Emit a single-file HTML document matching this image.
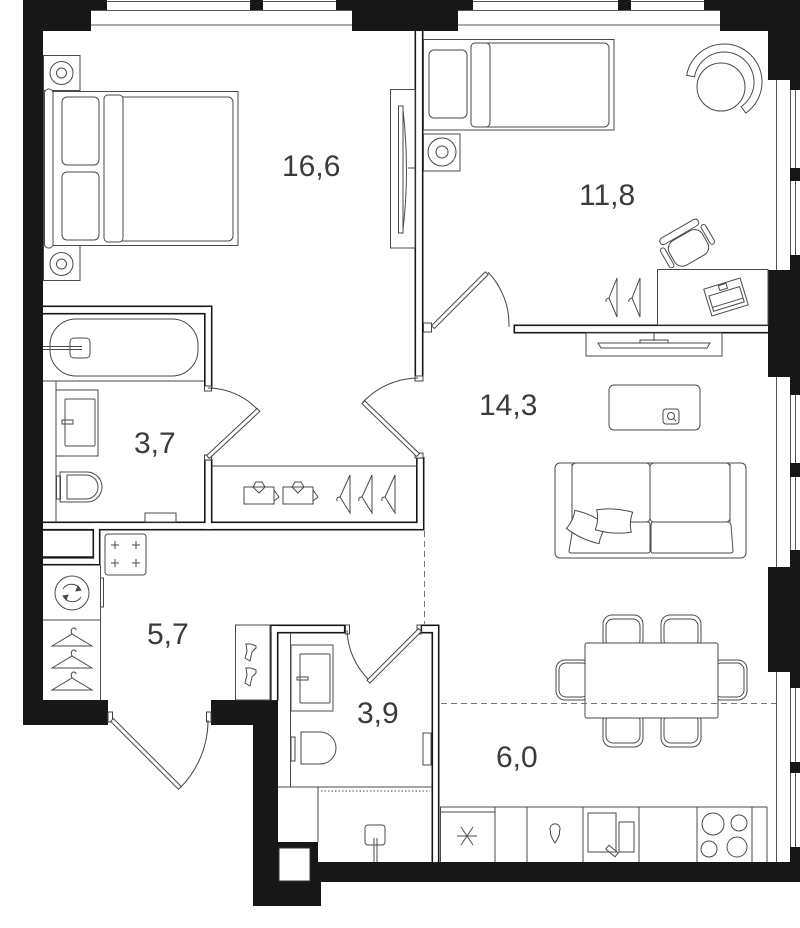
<!DOCTYPE html>
<html><head><meta charset="utf-8">
<style>
html,body{margin:0;padding:0;background:#fff}
svg{display:block}
text{font-family:"Liberation Sans",sans-serif;font-size:30px;fill:#3b3b3b}
</style></head>
<body>
<svg width="800" height="928" viewBox="0 0 800 928" xmlns="http://www.w3.org/2000/svg">
<rect width="800" height="928" fill="#fff"/>

<!-- windows top -->
<g stroke="#555" stroke-width="1" fill="none">
  <line x1="91" y1="10.5" x2="352" y2="10.5"/>
  <line x1="91" y1="25" x2="352" y2="25"/>
  <line x1="107" y1="1.5" x2="336" y2="1.5"/>
  <line x1="458" y1="10.5" x2="720" y2="10.5"/>
  <line x1="458" y1="25" x2="720" y2="25"/>
  <line x1="473" y1="1.5" x2="704" y2="1.5"/>
  <!-- right windows -->
  <line x1="776.5" y1="80" x2="776.5" y2="270"/>
  <line x1="776.5" y1="377" x2="776.5" y2="567"/>
  <line x1="776.5" y1="672" x2="776.5" y2="862"/>
  <line x1="790.5" y1="80" x2="790.5" y2="270"/>
  <line x1="795.5" y1="80" x2="795.5" y2="270"/>
  <line x1="790.5" y1="377" x2="790.5" y2="567"/>
  <line x1="795.5" y1="377" x2="795.5" y2="567"/>
  <line x1="790.5" y1="672" x2="790.5" y2="862"/>
  <line x1="795.5" y1="672" x2="795.5" y2="862"/>
</g>

<!-- exterior walls -->
<g fill="#171717">
  <polygon points="23,0 107,0 107,10 91,10 91,31 43,31 43,700 108,700 108,725 23,725"/>
  <rect x="250" y="0" width="13" height="10"/>
  <polygon points="336,0 473,0 473,10 458,10 458,31 352,31 352,10 336,10"/>
  <rect x="618" y="0" width="13" height="10"/>
  <polygon points="704,0 800,0 800,90 790,90 790,80 768,80 768,31 720,31 720,10 704,10"/>
  <rect x="790" y="168" width="10" height="13"/>
  <rect x="790" y="255" width="10" height="15"/>
  <rect x="768" y="270" width="32" height="107"/>
  <rect x="790" y="377" width="10" height="18"/>
  <rect x="790" y="463" width="10" height="14"/>
  <rect x="790" y="550" width="10" height="17"/>
  <rect x="768" y="567" width="32" height="105"/>
  <rect x="790" y="672" width="10" height="16"/>
  <rect x="790" y="762" width="10" height="11"/>
  <rect x="790" y="847" width="10" height="15"/>
  <polygon points="211,700 278,700 278,842 318,842 318,862 800,862 800,882 321,882 321,906 253,906 253,725 211,725"/>
</g>
<rect x="279" y="848" width="31" height="33" fill="#fff" stroke="#333" stroke-width="1"/>

<!-- thin partitions: black outer -->
<g fill="#171717">
  <rect x="414.5" y="31" width="9" height="348"/>
  <rect x="204" y="305.5" width="8.5" height="83"/>
  <rect x="43" y="305.5" width="169.5" height="9"/>
  <rect x="204" y="459" width="8.5" height="71"/>
  <rect x="416" y="457" width="8.5" height="73"/>
  <rect x="43" y="521.5" width="381.5" height="9"/>
  <rect x="92.5" y="521.5" width="8" height="44"/>
  <rect x="43" y="557" width="57.5" height="8.5"/>
  <rect x="513.5" y="324.5" width="254.5" height="9"/>
  <rect x="270" y="624.5" width="75.5" height="9"/>
  <rect x="270" y="624.5" width="8.5" height="76"/>
  <rect x="420.5" y="624.5" width="19" height="9"/>
  <rect x="431.5" y="624.5" width="8" height="238"/>
</g>
<g fill="#fff">
  <rect x="416.1" y="31" width="5.8" height="346.4"/>
  <rect x="205.6" y="307.1" width="5.3" height="79.3"/>
  <rect x="43" y="307.1" width="167.9" height="5.8"/>
  <rect x="205.6" y="460.6" width="5.3" height="68.3"/>
  <rect x="417.6" y="458.6" width="5.3" height="70.3"/>
  <rect x="43" y="523.1" width="379.9" height="5.8"/>
  <rect x="94.1" y="523.1" width="4.8" height="40.8"/>
  <rect x="43" y="558.6" width="55.9" height="5.3"/>
  <rect x="515.1" y="326.1" width="252.9" height="5.8"/>
  <rect x="271.6" y="626.1" width="72.3" height="5.8"/>
  <rect x="271.6" y="626.1" width="5.3" height="74"/>
  <rect x="422.1" y="626.1" width="15.8" height="5.8"/>
  <rect x="433.1" y="626.1" width="4.8" height="236"/>
</g>
<!-- box inside wall -->
<line x1="43" y1="530" x2="92.5" y2="530" stroke="#171717" stroke-width="1.6"/>
<line x1="43" y1="557" x2="92.5" y2="557" stroke="#171717" stroke-width="1.6"/>

<!-- jambs -->
<g fill="#fff" stroke="#444" stroke-width="1">
  <rect x="423.5" y="323" width="8" height="9"/>
  <rect x="415" y="376" width="8" height="5"/>
  <rect x="415" y="453" width="8" height="5"/>
  <rect x="204.5" y="386" width="7" height="5"/>
  <rect x="204.5" y="455" width="7" height="5"/>
  <rect x="108" y="712" width="4.5" height="10"/>
  <rect x="206.5" y="712" width="4.5" height="10"/>
  <rect x="345.5" y="625" width="4" height="9"/>
  <rect x="417" y="625" width="4" height="9"/>
</g>

<!-- doors -->
<g fill="#fff" stroke="#444" stroke-width="1">
  <path d="M208,388 A69,69 0 0 1 258,410" fill="none"/>
  <rect x="208" y="455" width="69" height="4" transform="rotate(-43 208 457)"/>
  <path d="M363,402 A77,77 0 0 1 418,378" fill="none"/>
  <rect x="418" y="453" width="76" height="4" transform="rotate(-136 418 455)"/>
  <path d="M488,272 A76,76 0 0 1 509,327" fill="none"/>
  <rect x="433" y="325" width="76" height="4" transform="rotate(-45 433 327)"/>
  <path d="M180,788 A96,96 0 0 0 208,720" fill="none"/>
  <rect x="112" y="718" width="96" height="4" transform="rotate(45 112 720)"/>
  <path d="M369,680 A73,73 0 0 1 347,630" fill="none"/>
  <rect x="420" y="628" width="73" height="4" transform="rotate(135 420 630)"/>
</g>

<!-- furniture -->
<g fill="none" stroke="#4a4a4a" stroke-width="1">
  <!-- bedroom 16,6 -->
  <rect x="43.5" y="55.5" width="36.5" height="35"/>
  <circle cx="61.5" cy="73" r="11.5"/>
  <circle cx="61.5" cy="73" r="5"/>
  <rect x="43.5" y="245.5" width="36.5" height="35"/>
  <circle cx="61.5" cy="264" r="11.5"/>
  <circle cx="61.5" cy="264" r="5"/>
  <rect x="43.5" y="91.5" width="194.5" height="154"/>
  <rect x="104" y="97" width="129" height="144" rx="5" fill="#fff"/>
  <rect x="104" y="95" width="19" height="147" rx="4" fill="#fff"/>
  <rect x="62" y="97" width="37" height="68" rx="5"/>
  <rect x="62" y="172" width="37" height="68" rx="5"/>
  <rect x="44.5" y="89" width="8.5" height="159" rx="4" fill="#fff"/>
  <rect x="390.5" y="89.5" width="24.5" height="158.5"/>
  <rect x="398.5" y="106" width="4.5" height="127"/>
  <path d="M403,110 Q410,170 403,230"/>
  <line x1="408" y1="168" x2="415" y2="168"/>

  <!-- room 11,8 -->
  <rect x="423.5" y="39.5" width="190.5" height="90.5"/>
  <rect x="471" y="43" width="138" height="84" rx="5" fill="#fff"/>
  <rect x="471" y="43" width="19" height="84" rx="4" fill="#fff"/>
  <rect x="429" y="50" width="38" height="68" rx="5"/>
  <rect x="423.5" y="134" width="36.5" height="37"/>
  <circle cx="442" cy="152" r="14"/>
  <circle cx="442" cy="152" r="6"/>
  <circle cx="721" cy="87" r="24" fill="#fff"/>
  <path d="M686.6,75.4 A38,38 0 1 1 745.8,113.1 L741.2,106.6 A30,30 0 1 0 694.5,76.8 Z" fill="#fff"/>
  <rect x="657.5" y="269.5" width="110.5" height="55.5"/>
  <g transform="translate(688 247) rotate(-30)">
    <rect x="-19" y="-13" width="38" height="28" rx="9" fill="#fff"/>
    <rect x="-22" y="-21" width="44" height="7" rx="3.5" fill="#fff"/>
    <rect x="-26" y="-12" width="5" height="22" rx="2.5" fill="#fff"/>
    <rect x="21" y="-12" width="5" height="22" rx="2.5" fill="#fff"/>
  </g>
  <g transform="translate(726 297) rotate(-17)">
    <rect x="-19" y="-14" width="38" height="28"/>
    <rect x="-16" y="-6" width="32" height="16"/>
    <line x1="-16" y1="6" x2="16" y2="6"/>
    <rect x="-4" y="-13" width="8" height="5"/>
  </g>
  <path d="M617,278 L617,317 L609,298 Z M609,298 q-4,1 -3,4"/>
  <path d="M640,278 L640,317 L632,298 Z M632,298 q-4,1 -3,4"/>

  <!-- bathroom 3,7 -->
  <line x1="43" y1="381" x2="204" y2="381"/>
  <rect x="50" y="319" width="148" height="57" rx="26"/>
  <rect x="70" y="338" width="20" height="20" rx="4"/>
  <line x1="43" y1="346.5" x2="82" y2="346.5"/>
  <line x1="43" y1="349.5" x2="82" y2="349.5"/>
  <line x1="56" y1="381" x2="56" y2="522"/>
  <rect x="56" y="390" width="42" height="66"/>
  <rect x="65" y="399" width="30" height="47" rx="1"/>
  <rect x="62" y="420" width="11" height="4"/>
  <rect x="56.5" y="476" width="4" height="23"/>
  <path d="M60,472 L87,472 A15,15 0 0 1 87,502 L60,502 Z"/>
  <path d="M67,475 L86,475 A12,12 0 0 1 86,499 L67,499 Z"/>
  <rect x="145" y="513" width="31" height="9"/>
  <!-- closet -->
  <line x1="212" y1="466" x2="417" y2="466"/>
  <rect x="244" y="487" width="30" height="17"/>
  <path d="M274,490 L279,497 L274,501"/>
  <path d="M253,487 L256,482 L262,482 L265,487 L259,493 Z"/>
  <rect x="283" y="487" width="30" height="17"/>
  <path d="M313,490 L318,497 L313,501"/>
  <path d="M292,487 L295,482 L301,482 L304,487 L298,493 Z"/>
  <path d="M350,475 L350,513 L340,497 Z M340,497 q-4,0 -3,4"/>
  <path d="M372,475 L372,513 L362,497 Z M362,497 q-4,0 -3,4"/>
  <path d="M395,475 L395,513 L385,497 Z M385,497 q-4,0 -3,4"/>

  <!-- hall 5,7 -->
  <rect x="105" y="534" width="41" height="41" rx="3"/>
  <path d="M111,545 h8 M115,541 v8 M132,545 h8 M136,541 v8 M111,563 h8 M115,559 v8 M132,563 h8 M136,559 v8"/>
  <line x1="100.5" y1="565" x2="100.5" y2="700"/>
  <rect x="100.5" y="578" width="3" height="29"/>
  <line x1="43" y1="620" x2="100" y2="620"/>
  <circle cx="72" cy="593" r="17"/>
  <path d="M63,589 A10,10 0 0 1 80,589 M81,597 A10,10 0 0 1 64,597"/>
  <path d="M78,586 L81,590 L76,591 Z M66,600 L63,596 L68,595 Z" fill="#4a4a4a"/>
  <path d="M52,646 L72,634 L92,646 Z M72,634 q-2,-4 1,-6 q3,0 3,2"/>
  <path d="M52,668 L72,656 L92,668 Z M72,656 q-2,-4 1,-6 q3,0 3,2"/>
  <path d="M52,690 L72,678 L92,690 Z M72,678 q-2,-4 1,-6 q3,0 3,2"/>
  <rect x="235.5" y="625" width="34.5" height="75"/>
  <path d="M246,644 L247,651 L245,658 L250,661 L252,652 L256,648 L256,646 L251,644 Z"/>
  <path d="M246,668 L247,675 L245,683 L250,686 L252,677 L256,673 L256,670 L251,668 Z"/>

  <!-- bathroom 3,9 -->
  <line x1="290.5" y1="633" x2="290.5" y2="787"/>
  <rect x="291" y="645" width="42" height="66"/>
  <rect x="300" y="654" width="30" height="49" rx="1"/>
  <rect x="297" y="677" width="11" height="3"/>
  <rect x="291" y="737" width="4" height="24"/>
  <path d="M301,732 L320,732 A16,16 0 0 1 320,764 L301,764 Z"/>
  <line x1="278" y1="787" x2="432" y2="787"/>
  <line x1="318" y1="787" x2="318" y2="842"/>
  <line x1="321" y1="791" x2="430" y2="791" stroke-dasharray="1.5 2"/>
  <rect x="365" y="825" width="20" height="20" rx="3"/>
  <line x1="374" y1="838" x2="374" y2="862"/>
  <line x1="377" y1="838" x2="377" y2="862"/>
  <rect x="423" y="733" width="8" height="32"/>

  <!-- living 14,3 -->
  <rect x="586" y="333" width="136" height="23"/>
  <path d="M598,343 L710,343 L707,348 L601,348 Z"/>
  <line x1="654" y1="333" x2="654" y2="341"/>
  <rect x="640" y="340" width="28" height="3"/>
  <rect x="609" y="385" width="91" height="45" rx="5"/>
  <rect x="663" y="409" width="16" height="15" rx="3"/>
  <circle cx="671" cy="416" r="3.5"/>
  <line x1="673.5" y1="418.5" x2="676" y2="421"/>
  <rect x="555" y="463" width="191" height="95" rx="5"/>
  <line x1="572" y1="464" x2="572" y2="522"/>
  <line x1="730" y1="464" x2="730" y2="522"/>
  <rect x="572" y="463" width="78" height="59" rx="4"/>
  <rect x="650" y="463" width="80" height="59" rx="4"/>
  <path d="M574,522 L648,522 Q650,522 650,525 L650,551 Q650,553 647,553 L571,553 Q569,553 569,551 Z" fill="#fff"/>
  <path d="M652,522 L728,522 Q730,522 731,525 L733,551 Q733,553 730,553 L653,553 Q651,553 651,551 L651,525 Z" fill="#fff"/>
  <g transform="translate(587 527) rotate(25)">
    <path d="M-18,-10 Q0,-14 18,-10 Q15,0 18,10 Q0,14 -18,10 Q-15,0 -18,-10 Z" fill="#fff"/>
  </g>
  <g transform="translate(614 521) rotate(4)">
    <path d="M-18,-10 Q0,-14 18,-10 Q15,0 18,10 Q0,14 -18,10 Q-15,0 -18,-10 Z" fill="#fff"/>
  </g>

  <!-- dining -->
  <rect x="603" y="615" width="40" height="34" rx="9"/>
  <rect x="606" y="619" width="34" height="28" rx="7"/>
  <rect x="661" y="615" width="40" height="34" rx="9"/>
  <rect x="664" y="619" width="34" height="28" rx="7"/>
  <rect x="603" y="712" width="40" height="35" rx="9"/>
  <rect x="606" y="714" width="34" height="29" rx="7"/>
  <rect x="661" y="712" width="40" height="35" rx="9"/>
  <rect x="664" y="714" width="34" height="29" rx="7"/>
  <rect x="556" y="660" width="35" height="40" rx="9"/>
  <rect x="559" y="663" width="30" height="34" rx="7"/>
  <rect x="712" y="660" width="35" height="40" rx="9"/>
  <rect x="714" y="663" width="30" height="34" rx="7"/>
  <rect x="585" y="643" width="133" height="75" rx="2" fill="#fff"/>

  <!-- kitchen -->
  <line x1="440" y1="807" x2="767" y2="807"/>
  <line x1="440" y1="812" x2="495" y2="812"/>
  <path d="M440.5,807 V862 M495,807 V862 M527,807 V862 M583,807 V862 M639,807 V862 M697,807 V862 M752,807 V862 M767,807 V862"/>
  <path d="M457,836 H477 M461,827 L473,845 M473,827 L461,845"/>
  <path d="M555,843 C551,837 550,834 550.5,831 A5,5 0 1 1 559.5,831 C560,834 559,837 555,843 Z"/>
  <rect x="588" y="813" width="28" height="39"/>
  <rect x="619" y="822" width="15" height="30"/>
  <g transform="translate(612 851) rotate(40)"><rect x="-6" y="-2.5" width="12" height="5"/></g>
  <circle cx="713" cy="824" r="11"/>
  <circle cx="739" cy="823" r="8"/>
  <circle cx="709" cy="849" r="8"/>
  <circle cx="737" cy="847" r="10"/>
</g>

<!-- dashed zone lines -->
<g stroke="#777" stroke-width="1" fill="none" stroke-dasharray="6 4">
  <line x1="441" y1="703.5" x2="776" y2="703.5"/>
  <line x1="424.5" y1="531" x2="424.5" y2="624"/>
</g>

<!-- labels -->
<text x="282" y="176">16,6</text>
<text x="579" y="205">11,8</text>
<text x="479" y="415">14,3</text>
<text x="134" y="453">3,7</text>
<text x="147" y="644">5,7</text>
<text x="357" y="723">3,9</text>
<text x="496" y="767">6,0</text>
</svg>
</body></html>
